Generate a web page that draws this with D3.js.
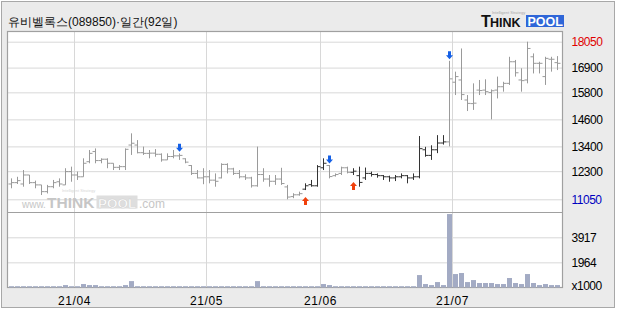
<!DOCTYPE html>
<html>
<head>
<meta charset="utf-8">
<script src="https://cdn.jsdelivr.net/npm/d3@7"></script>
<style>
  body { margin: 0; background: #fff; }
  text { font-family: "Liberation Sans", Arial, sans-serif; }
</style>
</head>
<body>
<div id="chart-area"></div>
<script>
// trading days, 2021-03-17 .. 2021-07-26 (92 days)
const dates = [
  '03-17','03-18','03-19','03-22','03-23','03-24','03-25','03-26','03-29','03-30','03-31',
  '04-01','04-02','04-05','04-06','04-07','04-08','04-09','04-12','04-13','04-14','04-15',
  '04-16','04-19','04-20','04-21','04-22','04-23','04-26','04-27','04-28','04-29','04-30',
  '05-03','05-04','05-06','05-07','05-10','05-11','05-12','05-13','05-14','05-17','05-18',
  '05-20','05-21','05-24','05-25','05-26','05-27','05-28','05-31',
  '06-01','06-02','06-03','06-04','06-07','06-08','06-09','06-10','06-11','06-14','06-15',
  '06-16','06-17','06-18','06-21','06-22','06-23','06-24','06-25','06-28','06-29','06-30',
  '07-01','07-02','07-05','07-06','07-07','07-08','07-09','07-12','07-13','07-14','07-15',
  '07-16','07-19','07-20','07-21','07-22','07-23','07-26'
];

const opens = [
  11730,11790,11730,12130,11790,11690,11390,11610,11830,11690,12280,
  12130,12050,12720,13170,12770,12830,12650,12470,12500,13460,13460,
  13120,13090,13100,13050,12800,12950,12980,12850,12550,12200,12000,
  12050,11900,12000,12600,12400,12200,12050,12000,11650,12150,11950,
  11850,11950,11600,11170,11250,11500,11700,11650,
  12450,12550,12100,12200,12450,12250,12100,12000,12200,12150,12100,
  12050,12000,12050,12100,12000,12050,13250,13000,13250,13550,13600,
  16250,16350,15460,15300,15900,15900,15790,15900,16050,16200,17160,
  16350,16350,17380,17090,16500,17270,17120
];
const highs = [
  11980,12050,12350,12130,11880,11690,11690,11910,11980,12430,12500,
  12280,12870,13240,13310,12870,12870,12650,12570,13310,13980,13680,
  13390,13240,13280,13090,13090,13240,13090,12870,12570,12350,12430,
  12350,12200,12650,12650,12450,12350,12160,12050,13390,12430,12130,
  12130,12450,11690,11320,11390,11760,11910,12570,
  12870,12570,12200,12500,12500,12430,12500,12460,12280,12200,12130,
  12100,12130,12200,12130,12200,13860,13380,13450,13900,13900,17200,
  16720,17750,15680,16200,16350,16380,15930,16500,16270,17380,17240,
  16870,18050,17530,17160,17380,17380,17410
];
const lows = [
  11540,11730,11610,11730,11540,11240,11310,11540,11610,11690,11830,
  11910,12050,12650,12650,12650,12430,12350,12350,12350,13020,13090,
  13020,12870,12940,12720,12800,12870,12800,12650,12130,11980,11720,
  11760,11610,11980,12200,12130,11980,11910,11570,11610,11830,11610,
  11690,11690,11050,11100,11210,11460,11610,11610,
  12350,11980,12060,12130,12200,12130,11610,11910,12060,12010,11910,
  11830,11860,11980,11760,11910,11980,12940,12800,13100,13480,13400,
  15680,15460,14970,15020,15680,15680,14600,15530,15830,16130,16500,
  15830,16200,16640,16640,16130,16720,16790
];
const closes = [
  11790,11880,12130,11790,11690,11390,11610,11790,11730,12280,12130,
  12050,12650,13090,12770,12830,12650,12470,12500,13270,13540,13120,
  13090,13100,13050,12800,12950,12980,13000,12700,12200,12000,12050,
  11900,11850,12600,12400,12200,12050,12000,11650,12150,11950,11850,
  11950,11750,11150,11250,11300,11650,11650,12500,
  12650,12060,12150,12450,12250,12300,11800,12200,12150,12100,12050,
  12000,12050,12100,12000,12050,13300,13000,13250,13550,13600,16400,
  16500,15700,15310,15320,15880,15830,15870,16050,16200,17160,16670,
  16320,17750,17090,17090,17310,17270,17090
];
// volume, x1000 shares
const volumes = [
  100,100,100,100,100,100,100,100,100,190,100,
  100,270,190,190,100,100,100,100,190,500,100,
  100,100,100,100,100,100,100,100,100,100,100,
  100,100,100,100,100,100,100,100,500,100,100,
  100,100,100,100,100,100,100,100,
  270,190,100,100,100,100,100,100,100,100,100,
  100,100,100,100,100,970,270,190,425,190,5730,
  1050,1130,425,580,350,350,350,270,270,740,350,
  270,1050,350,190,270,190,190
];

const buySignals = ['05-27', '06-08'];
const sellSignals = ['04-26', '06-02', '06-30'];

const priceTicks = [11050, 12300, 13400, 14600, 15800, 16900, 18050];
const volumeTicks = [1964, 3917];
const monthStarts = ['04-01', '05-03', '06-01', '07-01'];
const monthLabels = ['21/04', '21/05', '21/06', '21/07'];

const plot = {left: 7.5, right: 562.5, top: 31.5, mid: 212.5, bottom: 287.5};

const svg = d3.select('#chart-area')
  .append('svg')
    .attr('width', 620)
    .attr('height', 310);

svg.append('rect')
  .attr('x', 1.5).attr('y', 1.5)
  .attr('width', 613).attr('height', 306)
  .attr('fill', '#ebebeb')
  .attr('stroke', '#a8a8a8');

svg.append('rect')
  .attr('x', plot.left).attr('y', plot.top)
  .attr('width', plot.right - plot.left)
  .attr('height', plot.bottom - plot.top)
  .attr('fill', '#fff');

const x = d3.scaleBand()
  .domain(dates)
  .range([8.5, 560.5]);
const bw = x.bandwidth();

const yP = d3.scaleLinear()
  .domain([11050, 18050])
  .range([199.3, 41.7]);

const yV = d3.scaleLinear()
  .domain([0, 3917])
  .range([287.5, 237.3]);

// grid lines
const gridColor = '#d8d8d8';
svg.append('g')
  .attr('transform', `translate(${plot.left}, 0)`)
  .call(d3.axisLeft(yP).tickValues(priceTicks).tickSize(-(plot.right - plot.left)).tickFormat(''))
  .call(g => g.select('.domain').remove())
  .call(g => g.selectAll('line').attr('stroke', gridColor));

svg.append('g')
  .attr('transform', `translate(${plot.left}, 0)`)
  .call(d3.axisLeft(yV).tickValues(volumeTicks).tickSize(-(plot.right - plot.left)).tickFormat(''))
  .call(g => g.select('.domain').remove())
  .call(g => g.selectAll('line').attr('stroke', gridColor));

// month axis: grid lines and labels at the left edge of each month's first bar
svg.append('g')
  .attr('transform', `translate(${-bw / 2}, ${plot.bottom})`)
  .call(d3.axisBottom(x).tickValues(monthStarts)
    .tickSize(-(plot.bottom - plot.top))
    .tickPadding(9)
    .tickFormat((d, i) => monthLabels[i]))
  .call(g => g.select('.domain').remove())
  .call(g => g.selectAll('line').attr('stroke', gridColor))
  .call(g => g.selectAll('text')
    .attr('font-size', '12px')
    .attr('letter-spacing', '0.6px')
    .attr('fill', '#000'));

// watermark
const wm = svg.append('g').attr('fill', '#c6c6c6');
wm.append('text').attr('x', 22).attr('y', 208).attr('font-size', '10px').text('www.');
wm.append('text').attr('x', 47).attr('y', 208).attr('font-size', '15.5px').attr('font-weight', 'bold').text('THINK');
wm.append('rect').attr('x', 96.5).attr('y', 195.5).attr('width', 41).attr('height', 13).attr('fill', '#dedede');
wm.append('text').attr('x', 98).attr('y', 208).attr('font-size', '13.5px').attr('font-weight', 'bold')
  .attr('fill', '#fff').attr('stroke', '#d0d0d0').attr('stroke-width', 0.5).text('POOL');
wm.append('text').attr('x', 139).attr('y', 208).attr('font-size', '12px').text('.com');
wm.append('text').attr('x', 62).attr('y', 192).attr('font-size', '4px').attr('fill', '#d6d6d6').text('Intelligent Strategy');

// panel borders
svg.append('line')
  .attr('x1', plot.left).attr('x2', plot.right)
  .attr('y1', plot.mid).attr('y2', plot.mid)
  .attr('stroke', '#a0a0a0');
svg.append('rect')
  .attr('x', plot.left).attr('y', plot.top)
  .attr('width', plot.right - plot.left)
  .attr('height', plot.bottom - plot.top)
  .attr('fill', 'none')
  .attr('stroke', '#a0a0a0')
  .attr('stroke-width', 1.2);

// bar colour: dark while a buy signal is held
let holding = false;
const dark = dates.map(d => {
  if (buySignals.includes(d)) holding = true;
  if (sellSignals.includes(d)) holding = false;
  return holding;
});

const bars = svg.append('g')
  .selectAll('g')
  .data(dates)
  .enter()
  .append('g')
    .attr('stroke', (d, i) => dark[i] ? '#333' : '#9a9a9a')
    .attr('stroke-width', 1);

bars.append('line')
  .attr('x1', d => x(d) + bw / 2)
  .attr('x2', d => x(d) + bw / 2)
  .attr('y1', (d, i) => yP(highs[i]))
  .attr('y2', (d, i) => yP(lows[i]));

bars.append('line')
  .attr('x1', d => x(d) + bw / 2 - 3)
  .attr('x2', d => x(d) + bw / 2)
  .attr('y1', (d, i) => yP(opens[i]))
  .attr('y2', (d, i) => yP(opens[i]));

bars.append('line')
  .attr('x1', d => x(d) + bw / 2)
  .attr('x2', d => x(d) + bw / 2 + 3)
  .attr('y1', (d, i) => yP(closes[i]))
  .attr('y2', (d, i) => yP(closes[i]));

// signal arrows
const downArrow = (cx, tip) =>
  `M${cx - 1.5},${tip - 8}h3v4h2l-3.5,4l-3.5,-4h2z`;
const upArrow = (cx, tip) =>
  `M${cx - 1.5},${tip + 8}h3v-4h2l-3.5,-4l-3.5,4h2z`;

svg.append('g')
  .selectAll('path')
  .data(sellSignals)
  .enter()
  .append('path')
    .attr('d', d => downArrow(x(d) + bw / 2, yP(highs[dates.indexOf(d)]) - 1.5))
    .attr('fill', '#1560e6');

svg.append('g')
  .selectAll('path')
  .data(buySignals)
  .enter()
  .append('path')
    .attr('d', d => upArrow(x(d) + bw / 2, yP(lows[dates.indexOf(d)]) + 7))
    .attr('fill', '#f0400c');

// volume bars
svg.append('g')
  .selectAll('rect')
  .data(dates)
  .enter()
  .append('rect')
    .attr('x', d => x(d) + 0.5)
    .attr('width', bw - 1)
    .attr('y', (d, i) => yV(volumes[i]))
    .attr('height', (d, i) => yV(0) - yV(volumes[i]))
    .attr('fill', '#a3abc4');

// right axes
const tickColor = v => v === d3.max(priceTicks) ? '#e00000' : v === d3.min(priceTicks) ? '#0000c0' : '#000';
svg.append('g')
  .attr('transform', `translate(${plot.right}, 0)`)
  .call(d3.axisRight(yP).tickValues(priceTicks).tickSize(0).tickPadding(9).tickFormat(d3.format('d')))
  .call(g => g.select('.domain').remove())
  .call(g => g.selectAll('text')
    .attr('font-size', '12px')
    .attr('letter-spacing', '-0.5px')
    .attr('fill', tickColor));

svg.append('g')
  .attr('transform', `translate(${plot.right}, 0)`)
  .call(d3.axisRight(yV).tickValues(volumeTicks).tickSize(0).tickPadding(9).tickFormat(d3.format('d')))
  .call(g => g.select('.domain').remove())
  .call(g => g.selectAll('text')
    .attr('font-size', '12px')
    .attr('letter-spacing', '-0.5px')
    .attr('fill', '#000'));

svg.append('text')
  .attr('x', plot.right + 9)
  .attr('y', 290)
  .attr('font-size', '12px')
  .attr('letter-spacing', '-0.5px')
  .text('x1000');

// title
svg.append('text')
  .attr('x', 8)
  .attr('y', 26)
  .attr('font-size', '12px')
  .attr('font-family', '"Noto Sans CJK KR", sans-serif')
  .attr('fill', '#111')
  .text('유비벨록스(089850)·일간(92일)');

// logo
const logo = svg.append('g').attr('font-weight', 'bold');
logo.append('text').attr('x', 481).attr('y', 26.5).attr('font-size', '16px').attr('fill', '#111').text('T');
logo.append('text').attr('x', 490).attr('y', 26.5).attr('font-size', '12.5px').attr('fill', '#111').text('HINK');
logo.append('rect').attr('x', 526).attr('y', 15).attr('width', 38).attr('height', 12).attr('fill', '#2f66d8');
logo.append('text').attr('x', 527.5).attr('y', 26).attr('font-size', '12.5px').attr('fill', '#fff').text('POOL');
logo.append('text').attr('x', 492).attr('y', 14).attr('font-size', '4px').attr('font-weight', 'normal')
  .attr('fill', '#aaa').text('Intelligent Strategy');
</script>
</body>
</html>
